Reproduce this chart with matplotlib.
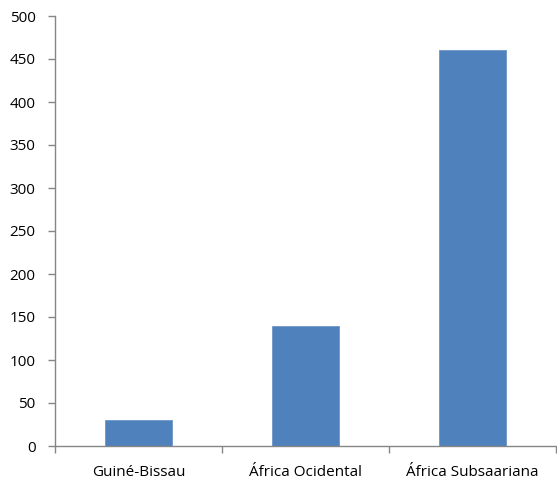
import matplotlib.pyplot as plt
import numpy as np

regions = ["Guiné-Bissau", "África Ocidental", "África Subsaariana"]
values = [30, 140, 461]
y_ticks = list(range(0, 501, 50))

plt.rcParams['font.family'] = ['Open Sans', 'DejaVu Sans']

fig = plt.figure(figsize=(5.57, 4.8), dpi=100)
ax = fig.add_axes([55 / 557, 34 / 480, 501 / 557, 430 / 480])

x = np.arange(len(regions))
ax.bar(x, values, width=0.4, color="#4F81BD", edgecolor="#6E95C8", linewidth=0.6)

ax.set_xlim(-0.5, len(regions) - 0.5)
ax.set_ylim(0, 500)
ax.set_yticks(y_ticks)
ax.set_yticklabels([str(t) for t in y_ticks], fontsize=11)

# category labels sit at bar centres, tick marks on the boundaries
ax.set_xticks(x)
ax.set_xticklabels(regions, fontsize=11)
ax.tick_params(axis="x", length=0, pad=14)
ax.set_xticks(np.arange(-0.5, len(regions)), minor=True)
ax.tick_params(axis="x", which="minor", length=5, color="#868686", width=1)
ax.tick_params(axis="y", length=5, color="#868686", width=1, pad=9)

for side in ["top", "right"]:
    ax.spines[side].set_visible(False)
for side in ["left", "bottom"]:
    ax.spines[side].set_color("#868686")
    ax.spines[side].set_linewidth(1)

fig.savefig("out.png", dpi=100)
